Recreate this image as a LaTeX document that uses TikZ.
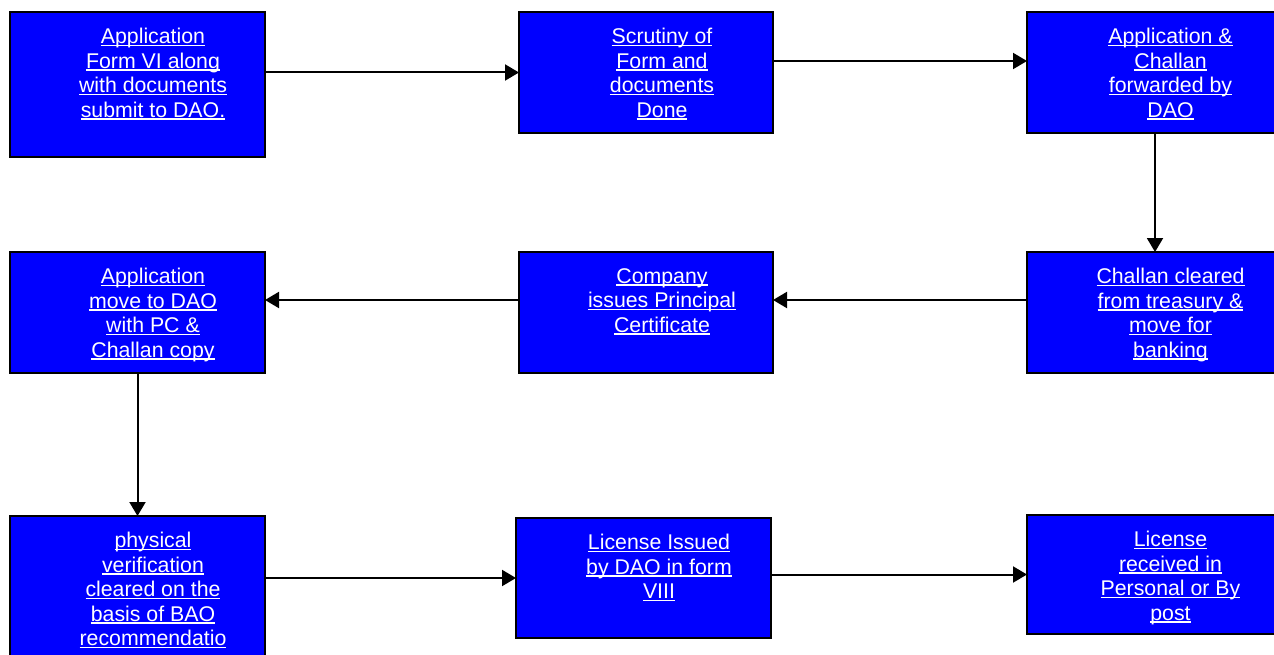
\documentclass[tikz,border=0pt]{standalone}
\usepackage{fontspec}
\setmainfont{Liberation Sans}
\usetikzlibrary{arrows.meta}
\newcommand\myul[1]{\setbox0\hbox{#1}\rlap{\rule[-2.6pt]{\wd0}{1.4pt}}\box0}
\begin{document}
\begin{tikzpicture}[x=1pt,y=-1pt,
 box/.style={draw=black, line width=2pt, fill=blue, inner sep=0pt, outer sep=0pt},
 lbl/.style={text=white, align=center, anchor=north, inner sep=0pt, font=\fontsize{21.3}{24.5}\selectfont},
 arr/.style={draw=black, line width=2pt, -{Triangle[length=14pt,width=16pt]}}]
\useasboundingbox (0,0) rectangle (1274,655);
\clip (0,0) rectangle (1274,655);
% boxes
\node[box, minimum width=255pt, minimum height=145pt] (b1) at (137.5,84.5) {};
\node[box, minimum width=254pt, minimum height=121pt] (b2) at (646,72.5) {};
\node[box, minimum width=251pt, minimum height=121pt] (b3) at (1152.5,72.5) {};
\node[box, minimum width=255pt, minimum height=121pt] (b4) at (137.5,312.5) {};
\node[box, minimum width=254pt, minimum height=121pt] (b5) at (646,312.5) {};
\node[box, minimum width=251pt, minimum height=121pt] (b6) at (1152.5,312.5) {};
\node[box, minimum width=255pt, minimum height=149pt] (b7) at (137.5,590.5) {};
\node[box, minimum width=255pt, minimum height=120pt] (b8) at (643.5,578) {};
\node[box, minimum width=251pt, minimum height=119pt] (b9) at (1152.5,574.5) {};
% labels
\node[lbl] (t1) at (153,28) {\myul{Application}\\\myul{Form VI along}\\\myul{with documents}\\\myul{submit to DAO.}};
\node[lbl] (t2) at (662,28) {\myul{Scrutiny of}\\\myul{Form and}\\\myul{documents}\\\myul{Done}};
\node[lbl] (t3) at (1170.5,28) {\myul{Application \&}\\\myul{Challan}\\\myul{forwarded by}\\\myul{DAO}};
\node[lbl] (t4) at (153,268) {\myul{Application}\\\myul{move to DAO}\\\myul{with PC \&}\\\myul{Challan copy}};
\node[lbl] (t5) at (662,268) {\myul{Company}\\\myul{issues Principal}\\\myul{Certificate}};
\node[lbl] (t6) at (1170.5,268) {\myul{Challan cleared}\\\myul{from treasury \&}\\\myul{move for}\\\myul{banking}};
\node[lbl] (t7) at (153,532) {\myul{physical}\\\myul{verification}\\\myul{cleared on the}\\\myul{basis of BAO}\\\myul{recommendatio}};
\node[lbl] (t8) at (659,534) {\myul{License Issued}\\\myul{by DAO in form}\\\myul{VIII}};
\node[lbl] (t9) at (1170.5,531) {\myul{License}\\\myul{received in}\\\myul{Personal or By}\\\myul{post}};
% connectors
\draw[arr] (b1.east |- b2.west) -- (b2.west);
\coordinate (a23) at ([yshift=11.5pt]b2.east);
\draw[arr] (a23) -- (a23 -| b3.west);
\coordinate (a36) at ([xshift=2.5pt]b3.south);
\draw[arr] (a36) -- (a36 |- b6.north);
\coordinate (a65) at ([yshift=12.5pt]b6.west);
\draw[arr] (a65) -- (a65 -| b5.east);
\coordinate (a54) at ([yshift=12.5pt]b5.west);
\draw[arr] (a54) -- (a54 -| b4.east);
\draw[arr] (b4.south) -- (b7.north);
\draw[arr] (b7.east |- b8.west) -- (b8.west);
\draw[arr] (b8.east |- b9.west) -- (b9.west);
\end{tikzpicture}
\end{document}
